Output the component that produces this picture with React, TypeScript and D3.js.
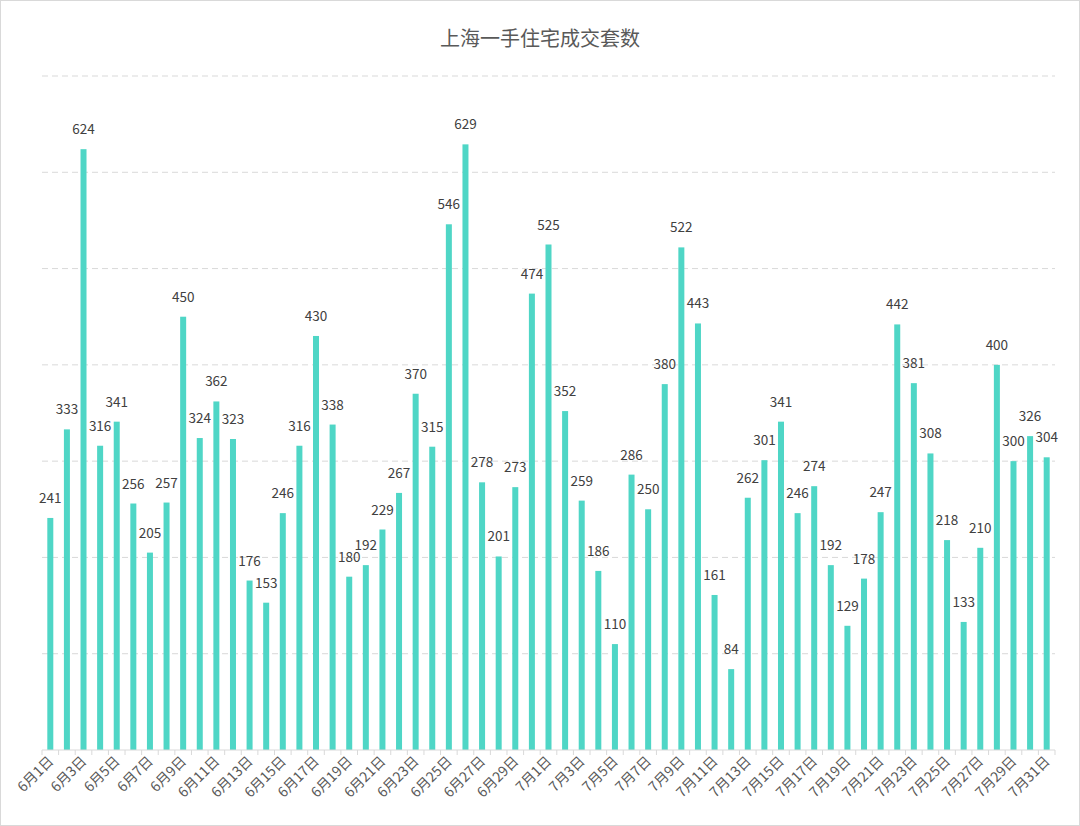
import * as d3 from 'd3';

const days: string[] = [
  ...d3.range(1, 31).map(d => `6月${d}日`),
  ...d3.range(1, 32).map(d => `7月${d}日`),
];
const values: number[] = [
  241, 333, 624, 316, 341, 256, 205, 257, 450, 324, 362, 323, 176, 153, 246, 316, 430, 338, 180, 192,
  229, 267, 370, 315, 546, 629, 278, 201, 273, 474,
  525, 352, 259, 186, 110, 286, 250, 380, 522, 443, 161, 84, 262, 301, 341, 246, 274, 192, 129, 178,
  247, 442, 381, 308, 218, 133, 210, 400, 300, 326, 304,
];
const yTicks = [0, 100, 200, 300, 400, 500, 600, 700];

const W = 1080, H = 826;
const left = 42, right = 1055, top = 76, bottom = 750;
const font = '"Microsoft YaHei", "Noto Sans CJK SC", sans-serif';

export default function App() {
  const x = d3.scaleBand<string>().domain(days).range([left, right]);
  const y = d3.scaleLinear().domain([0, 700]).range([bottom, top]);
  const bw = 6;
  return (
    <svg width={W} height={H} style={{ position: 'absolute', left: 0, top: 0 }} fontFamily={font}>
      <rect x={0.5} y={0.5} width={W - 1} height={H - 1} fill="#fff" stroke="#d9d9d9" />
      <text x={W / 2} y={46} textAnchor="middle" fontSize={20} fill="#595959">上海一手住宅成交套数</text>
      {yTicks.slice(1).map(t => (
        <line key={t} x1={left} x2={right} y1={y(t)} y2={y(t)} stroke="#d9d9d9" strokeDasharray="6,4" />
      ))}
      {values.map((v, i) => {
        const cx = x(days[i])! + x.bandwidth() / 2;
        return (
          <g key={i}>
            <rect x={cx - bw / 2} y={y(v)} width={bw} height={bottom - y(v)} fill="#4fd6c6" />
            <text x={cx} y={y(v) - 15} textAnchor="middle" fontSize={13.5} fill="#404040">{v}</text>
          </g>
        );
      })}
      <line x1={left} x2={right} y1={bottom} y2={bottom} stroke="#d9d9d9" />
      {d3.range(days.length + 1).map(i => {
        const tx = left + i * x.step();
        return <line key={i} x1={tx} x2={tx} y1={bottom} y2={bottom + 5} stroke="#d9d9d9" />;
      })}
      {days.map((d, i) => i % 2 === 0 ? (
        <text key={d} transform={`translate(${x(d)! + x.bandwidth() / 2 + 4},${bottom + 12}) rotate(-45)`}
          textAnchor="end" fontSize={14} fill="#595959">{d}</text>
      ) : null)}
    </svg>
  );
}
